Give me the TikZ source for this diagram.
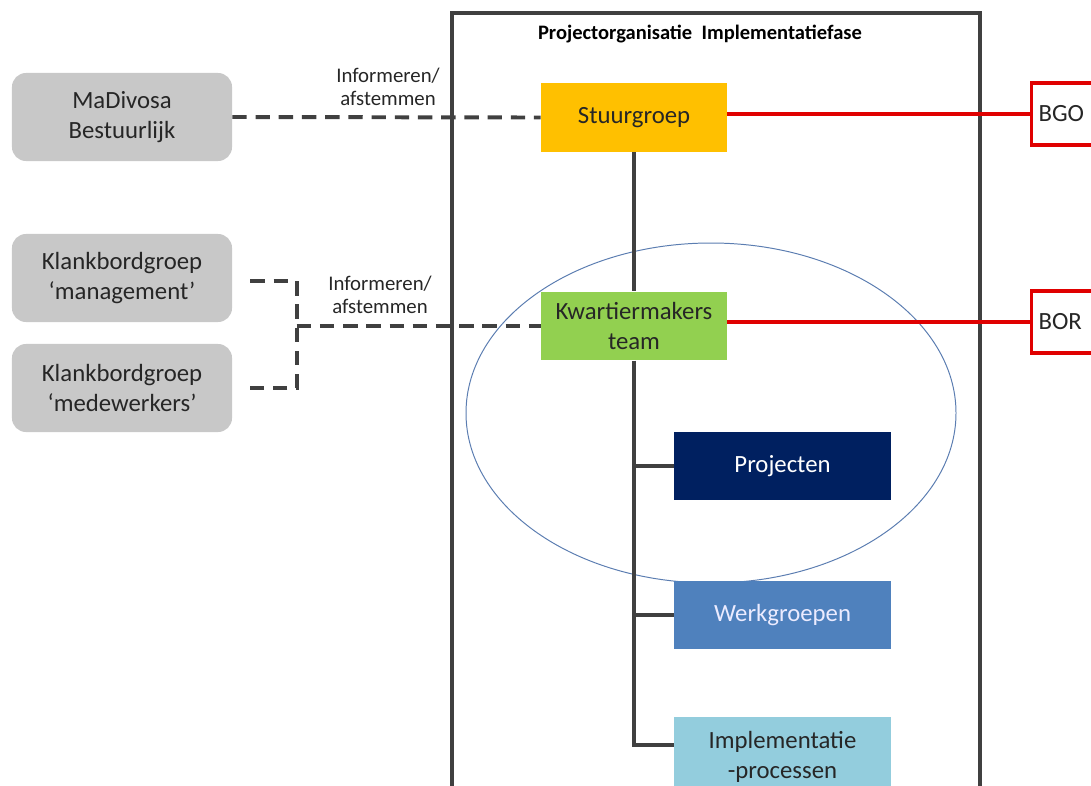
\documentclass[tikz,border=0pt]{standalone}
\usepackage{fontspec}
\setmainfont{Carlito}
\usetikzlibrary{positioning}
\definecolor{framegray}{HTML}{404040}
\definecolor{boxgray}{HTML}{C8C8C8}
\definecolor{stuurgeel}{HTML}{FFC000}
\definecolor{kwartgroen}{HTML}{92D050}
\definecolor{projblauw}{HTML}{002060}
\definecolor{werkblauw}{HTML}{4F81BD}
\definecolor{implblauw}{HTML}{93CDDD}
\definecolor{lijnrood}{HTML}{E00000}
\definecolor{ovaalblauw}{HTML}{5B7DB1}
\tikzset{
	partner/.style={fill=boxgray,rounded corners=0.35cm,minimum width=5.5cm,minimum height=2.2cm,inner sep=0pt,align=center,text=black!85,font=\fontsize{17.6}{21}\selectfont},
	orgbox/.style={minimum width=4.65cm,minimum height=1.72cm,inner sep=0pt,align=center,text=black!85,font=\fontsize{17.6}{21}\selectfont},
	subbox/.style={minimum width=5.42cm,minimum height=1.7cm,inner sep=0pt,align=center,font=\fontsize{17.6}{21}\selectfont},
	orgaan/.style={draw=lijnrood,line width=2.2pt,fill=white,minimum height=1.55cm,text width=1.8cm,inner xsep=0.175cm,align=left,text=black!85,font=\fontsize{17.6}{21}\selectfont},
	infoline/.style={draw=framegray,line width=2.8pt,dash pattern=on 0.36cm off 0.22cm},
	redline/.style={draw=lijnrood,line width=2.4pt},
	trunk/.style={draw=framegray,line width=2.2pt},
	labeltxt/.style={align=center,text=black!85,font=\fontsize{14.8}{16.5}\selectfont}
}
\begin{document}
\begin{tikzpicture}[x=0.025cm,y=-0.025cm]
		\useasboundingbox (0,0) rectangle (1091,785);
		\clip (0,0) rectangle (1091,785);
		% frame and oval
		\draw[framegray,line width=2.2pt] (452,13) rectangle (980,820);
		\node[font=\bfseries\fontsize{14.6}{17}\selectfont] (titel) at (700,34) {Projectorganisatie\ \ Implementatiefase};
		\draw[ovaalblauw,line width=0.7pt] (711,413) ellipse [x radius=245,y radius=170];
		% left side
		\node[partner] (madivosa) at (122,117) {MaDivosa\\Bestuurlijk};
		\node[partner] (mgmt) at (122,278) {Klankbordgroep\\‘management’};
		\node[partner] (medew) at (122,388) {Klankbordgroep\\‘medewerkers’};
		% inside the frame
		\node[orgbox,fill=stuurgeel] (stuur) at (634,117.5) {Stuurgroep};
		\node[orgbox,fill=kwartgroen] (kwartier) at (634,326) {Kwartiermakers\\team};
		\node[subbox,fill=projblauw,text=white] (projecten) at (782.5,466) {Projecten};
		\node[subbox,fill=werkblauw,text=white!92!blue] (werk) at (782.5,615) {Werkgroepen};
		\node[subbox,fill=implblauw,text=black!85,minimum height=2cm] (impl) at (782.5,757) {Implementatie\\-processen};
		% right side
		\node[orgaan,anchor=west] (bgo) at (1030,114) {BGO};
		\node[orgaan,anchor=west] (bor) at (1030,322) {BOR};
		% trunk
		\draw[trunk] (stuur.south) -- (kwartier.north);
		\draw[trunk] (kwartier.south) -- ([yshift=0.3cm]kwartier.south |- impl.west) -- ([yshift=0.3cm]impl.west);
		\draw[trunk] (kwartier.south |- projecten.west) -- (projecten.west);
		\draw[trunk] (kwartier.south |- werk.west) -- (werk.west);
		% dashed lines
		\draw[infoline] (madivosa.east) -- (stuur.west);
		\path (kwartier.west) ++(-244,0) coordinate (kjoin);
		\draw[infoline] ([xshift=0.45cm,yshift=-0.08cm]mgmt.east) -| (kjoin) |- ([xshift=0.45cm]medew.east);
		\draw[infoline] (kjoin) -- (kwartier.west);
		\node[labeltxt] (info1) at (388,87) {Informeren/\\afstemmen};
		\node[labeltxt] (info2) at (380,295) {Informeren/\\afstemmen};
		% red lines
		\draw[redline] (stuur.east |- bgo.west) -- (bgo.west);
		\draw[redline] (kwartier.east |- bor.west) -- (bor.west);
\end{tikzpicture}
\end{document}
